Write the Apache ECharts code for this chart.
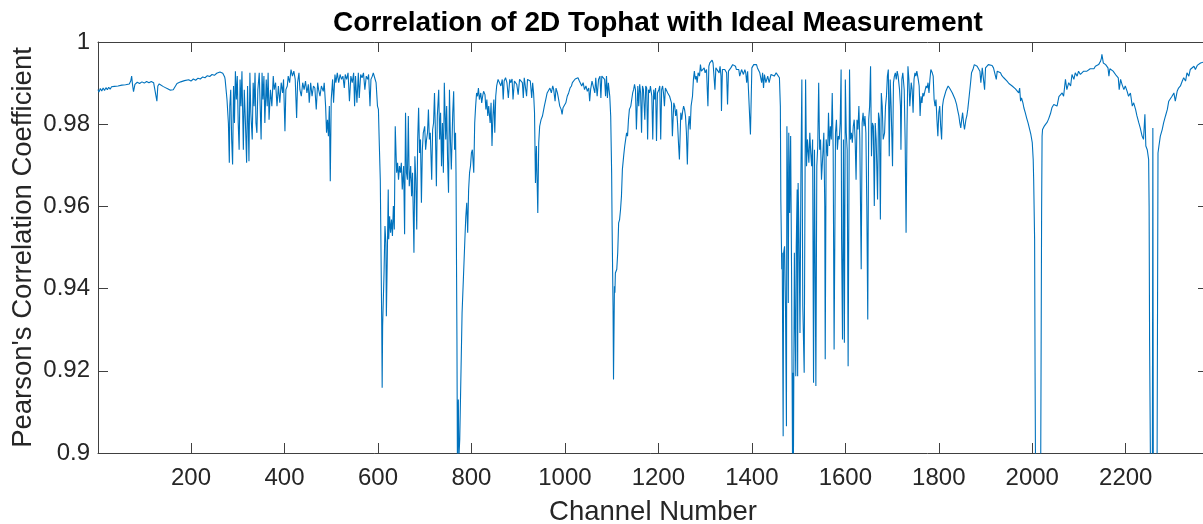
<!DOCTYPE html>
<html>
<head>
<meta charset="utf-8">
<script src="https://cdn.jsdelivr.net/npm/echarts@6/dist/echarts.min.js"></script>
<style>
html,body{margin:0;padding:0;background:#fff;}
#chart{width:1203px;height:524px;}
</style>
</head>
<body>
<div id="chart"></div>
<script>
// ---- Data: [channel, Pearson's correlation coefficient] ----
const segA = [[1,.9884],[3,.9878],[6,.9887],[9,.9881],[12,.9888],[15,.9882],[18,.9889],[21,.9884],[24,.9890],[27,.9885],[30,.9891],[33,.9887],[36,.9892],[40,.9888],[44,.9893],[48,.9890],[52,.9895],[56,.9892],[60,.9896],[64,.9893],[68,.9898],[71,.9905],[73,.9917],[75,.9895],[77,.9879],[80,.9897],[85,.9902],[90,.9899],[95,.9903],[100,.9900],[105,.9904],[110,.9901],[115,.9904],[120,.9901],[124,.9899],[127,.9856],[129,.9893],[132,.9898],[136,.9895],[140,.9892],[145,.9889],[150,.9886],[155,.9883],[158,.9880],[162,.9884],[166,.9887],[170,.9899],[174,.9896],[178,.9903],[182,.9900],[186,.9906],[190,.9903],[195,.9908],[200,.9905],[205,.9910],[210,.9907],[215,.9912],[220,.9910],[225,.9915],[230,.9913],[235,.9918],[240,.9916],[245,.9921],[250,.9919],[255,.9924],[258,.9921],[262,.9927],[265,.9925],[268,.9924],[272,.9915]];

const segB = [[273,.9909],[277,.9860],[280,.9803],[282,.9706],[283,.9844],[285,.9884],[287,.9763],[289,.9702],[291,.9893],[293,.9803],[295,.9929],[297,.9860],[299,.9917],[301,.9803],[303,.9738],[305,.9909],[307,.9844],[309,.9929],[312,.9738],[314,.9884],[316,.9820],[319,.9706],[321,.9893],[324,.9710],[326,.9925],[328,.9828],[331,.9763],[333,.9901],[335,.9844],[337,.9925],[339,.9803],[341,.9779],[343,.9884],[346,.9925],[348,.9844],[350,.9763],[352,.9925],[354,.9860],[356,.9917],[358,.9803],[361,.9909],[363,.9844],[365,.9925],[367,.9811],[370,.9884],[373,.9844],[376,.9917],[378,.9884],[381,.9901],[384,.9844],[387,.9893],[390,.9852],[393,.9901],[396,.9876],[398,.9909],[401,.9783],[403,.9884],[406,.9893],[408,.9917],[411,.9901],[414,.9933],[417,.9917],[420,.9929],[423,.9909],[426,.9815],[428,.9901],[431,.9925],[433,.9884],[436,.9868],[439,.9901],[442,.9884],[445,.9905],[448,.9876],[451,.9897],[453,.9852],[456,.9901],[459,.9868],[462,.9893],[465,.9888],[468,.9836],[471,.9901],[473,.9884]];

const segC = [[476,.9868],[479,.9893],[483,.9880],[485,.9901],[488,.9844],[490,.9779],[492,.9811],[494,.9771],[496,.9844],[498,.9661],[500,.9860],[503,.9909],[505,.9852],[508,.9921],[510,.9901],[513,.9925],[516,.9901],[519,.9921],[522,.9909],[525,.9917],[528,.9888],[530,.9921],[533,.9909],[536,.9925],[539,.9856],[542,.9917],[545,.9901],[548,.9925],[550,.9844],[552,.9917],[555,.9852],[558,.9925],[560,.9864],[563,.9921],[566,.9913],[569,.9925],[572,.9884],[575,.9917],[578,.9909],[580,.9921],[583,.9844],[585,.9909],[588,.9917],[590,.9925],[593,.9913],[596,.9901],[599,.9844],[601,.9836],[603,.9747],[605,.9665],[608,.9325],[609,.9159],[610,.9309],[613,.9438],[615,.9552],[617,.9511],[618,.9333],[620,.9479],[622,.9641],[623,.9520],[625,.9576],[627,.9536],[629,.9568],[631,.9528],[633,.9601],[635,.9544],[637,.9795],[640,.9682],[642,.9706],[644,.9665],[646,.9698],[648,.9682],[650,.9706],[652,.9641],[655,.9698],[657,.9532],[659,.9828],[661,.9682],[663,.9665],[665,.9820],[667,.9649],[670,.9698],[672,.9625],[674,.9682],[677,.9487],[679,.9722],[681,.9665],[683,.9544],[685,.9763],[687,.9840],[689,.9730],[691,.9763],[693,.9609],[695,.9738],[697,.9779],[700,.9795],[702,.9738],[704,.9763],[706,.9779],[708,.9836],[710,.9763],[712,.9779],[715,.9665],[717,.9787],[719,.9803],[721,.9876],[723,.9779],[725,.9649],[727,.9820],[730,.9884],[732,.9763],[734,.9828],[736,.9698],[738,.9803],[740,.9682],[742,.9901],[745,.9763],[747,.9844],[749,.9714],[751,.9633],[753,.9884],[755,.9763],[757,.9690],[760,.9828],[762,.9880],[764,.9738],[766,.9779],[767,.9682],[769,.9276],[770,.8984],[772,.9130],[773,.8984],[775,.9033],[780,.9341],[783,.9430],[786,.9520],[788,.9576],[790,.9609],[792,.9536],[794,.9641],[796,.9682],[798,.9698],[800,.9730],[802,.9738],[805,.9682],[807,.9803],[809,.9844],[811,.9876],[813,.9868],[815,.9888],[817,.9860],[820,.9876],[822,.9852],[824,.9868],[826,.9880],[829,.9872],[831,.9836],[833,.9860],[835,.9820],[837,.9844],[840,.9803],[842,.9852],[844,.9747],[846,.9820],[848,.9860],[850,.9779],[852,.9868],[854,.9893],[857,.9909],[860,.9905],[863,.9893],[866,.9909],[868,.9860],[870,.9905],[873,.9913],[876,.9901],[879,.9864],[882,.9909],[884,.9901],[887,.9910],[889,.9860],[892,.9905],[894,.9909],[897,.9897],[900,.9872],[903,.9909],[906,.9913],[909,.9901],[911,.9864],[913,.9913],[916,.9917],[918,.9868],[920,.9909],[923,.9913],[926,.9905],[929,.9864],[931,.9901],[933,.9876],[935,.9828],[937,.9657],[939,.9747],[942,.9584],[944,.9755],[946,.9795],[949,.9811],[952,.9820]];

const segD = [[954,.9832],[956,.9844],[959,.9860],[962,.9876],[965,.9872],[968,.9888],[971,.9876],[974,.9893],[976,.9884],[979,.9856],[981,.9888],[984,.9876],[986,.9864],[989,.9844],[992,.9836],[994,.9824],[996,.9840],[999,.9844],[1002,.9852],[1005,.9868],[1008,.9876],[1011,.9888],[1014,.9893],[1016,.9901],[1019,.9905],[1022,.9910],[1025,.9909],[1028,.9913],[1031,.9905],[1034,.9901],[1036,.9893],[1039,.9901],[1042,.9884],[1045,.9893],[1048,.9880],[1051,.9888],[1053,.9856],[1055,.9884],[1058,.9905],[1061,.9909],[1064,.9876],[1066,.9913],[1069,.9868],[1072,.9909],[1075,.9917],[1077,.9864],[1079,.9917],[1082,.9921],[1085,.9909],[1087,.9868],[1089,.9917],[1091,.9864],[1093,.9901],[1096,.9868],[1098,.9820],[1100,.9682],[1101,.9552],[1103,.9357],[1104,.9179],[1106,.9406],[1107,.9390],[1108,.9438],[1111,.9447],[1113,.9487],[1115,.9560],[1117,.9568],[1119,.9592],[1121,.9625],[1123,.9690],[1126,.9726],[1128,.9747],[1130,.9763],[1132,.9779],[1134,.9771],[1136,.9811],[1138,.9836],[1141,.9844],[1143,.9860],[1145,.9876],[1147,.9884],[1149,.9897],[1151,.9884],[1153,.9787],[1156,.9893],[1158,.9844],[1160,.9897],[1162,.9876],[1164,.9779],[1166,.9893],[1168,.9884],[1171,.9811],[1173,.9893],[1175,.9888],[1177,.9763],[1179,.9884],[1181,.9876],[1183,.9893],[1186,.9868],[1188,.9763],[1190,.9884],[1192,.9860],[1194,.9888],[1196,.9759],[1198,.9876],[1201,.9884],[1203,.9893],[1205,.9763],[1207,.9884],[1209,.9893],[1211,.9876],[1213,.9844],[1215,.9888],[1218,.9884],[1220,.9876],[1222,.9880],[1224,.9868],[1226,.9864],[1228,.9852],[1230,.9771],[1233,.9852],[1235,.9844],[1237,.9820],[1239,.9836],[1241,.9803],[1243,.9755],[1245,.9714],[1248,.9828],[1250,.9811],[1252,.9832],[1254,.9844],[1256,.9836],[1258,.9820],[1260,.9779],[1262,.9702],[1264,.9795],[1266,.9820],[1268,.9787],[1270,.9844],[1273,.9868],[1275,.9909],[1277,.9929],[1279,.9909],[1281,.9917],[1283,.9901],[1285,.9925],[1288,.9917],[1290,.9945],[1292,.9929],[1294,.9925],[1296,.9933],[1298,.9937],[1300,.9925],[1303,.9933],[1305,.9929],[1306,.9844],[1308,.9941],[1310,.9949],[1313,.9953],[1315,.9956],[1317,.9949],[1319,.9945],[1321,.9884],[1323,.9937],[1325,.9941],[1327,.9937],[1330,.9925],[1332,.9941],[1334,.9917],[1335,.9832],[1337,.9933],[1340,.9937],[1342,.9933],[1344,.9937],[1346,.9925],[1348,.9848],[1350,.9929],[1352,.9933],[1355,.9937],[1357,.9941],[1359,.9945],[1361,.9949],[1363,.9949],[1365,.9941],[1367,.9933],[1370,.9929],[1372,.9933],[1374,.9917],[1376,.9925],[1378,.9933],[1380,.9929],[1382,.9921],[1385,.9933],[1387,.9925],[1389,.9901],[1391,.9929],[1393,.9933],[1395,.9929],[1397,.9775],[1400,.9937],[1402,.9941],[1404,.9945],[1406,.9941],[1408,.9949],[1410,.9945],[1412,.9937],[1415,.9933],[1417,.9925],[1419,.9929],[1421,.9901],[1423,.9925],[1425,.9888],[1427,.9921],[1430,.9901]];

const segE = [[1434,.9917],[1437,.9901],[1441,.9921],[1444,.9925],[1448,.9917],[1452,.9925],[1455,.9921],[1459,.9913],[1461,.9844],[1462,.9617],[1464,.9447],[1465,.9487],[1467,.9041],[1468,.9487],[1470,.9503],[1472,.9357],[1474,.9065],[1475,.9795],[1477,.9601],[1478,.9365],[1479,.9779],[1481,.9584],[1483,.9771],[1485,.9438],[1487,.8984],[1488,.9195],[1489,.8984],[1491,.9487],[1492,.9357],[1494,.9187],[1495,.9503],[1497,.9641],[1498,.9187],[1499,.9657],[1501,.9520],[1503,.9292],[1505,.9682],[1507,.9909],[1509,.9357],[1512,.9195],[1514,.9714],[1515,.9909],[1517,.9698],[1519,.9763],[1522,.9706],[1524,.9779],[1526,.9730],[1528,.9698],[1530,.9763],[1532,.9171],[1534,.9738],[1537,.9163],[1539,.9698],[1541,.9747],[1543,.9901],[1545,.9738],[1547,.9763],[1549,.9665],[1552,.9730],[1554,.9779],[1556,.9601],[1557,.9228],[1559,.9763],[1562,.9722],[1564,.9828],[1566,.9747],[1568,.9795],[1570,.9763],[1572,.9876],[1574,.9738],[1576,.9252],[1579,.9779],[1581,.9811],[1583,.9738],[1585,.9771],[1587,.9763],[1589,.9803],[1591,.9933],[1592,.9520],[1594,.9276],[1596,.9763],[1598,.9268],[1600,.9909],[1602,.9779],[1604,.9738],[1606,.9211],[1609,.9933],[1611,.9763],[1613,.9779],[1615,.9755],[1617,.9795],[1619,.9811],[1621,.9763],[1623,.9665],[1625,.9811],[1627,.9787],[1629,.9844],[1631,.9763],[1634,.9447],[1636,.9803],[1638,.9828],[1640,.9795],[1642,.9820],[1644,.9779],[1646,.9601],[1648,.9325],[1650,.9811],[1652,.9844],[1654,.9941],[1656,.9722],[1658,.9803],[1660,.9795],[1662,.9601],[1664,.9803],[1666,.9763],[1669,.9617],[1671,.9828],[1673,.9811],[1675,.9568],[1677,.9876],[1679,.9844],[1681,.9763],[1684,.9779],[1686,.9844],[1688,.9868],[1690,.9917],[1692,.9933],[1694,.9722],[1696,.9909],[1698,.9844],[1701,.9698],[1703,.9901],[1705,.9917],[1707,.9925],[1709,.9909],[1711,.9929],[1713,.9917],[1716,.9884],[1718,.9844],[1719,.9738],[1721,.9909],[1723,.9925],[1726,.9884],[1728,.9763],[1730,.9536],[1732,.9795],[1734,.9941],[1736,.9909],[1738,.9844],[1741,.9901],[1743,.9884],[1745,.9828],[1747,.9909],[1749,.9925],[1751,.9917],[1753,.9929],[1756,.9909],[1758,.9893],[1760,.9820],[1762,.9868],[1764,.9852],[1766,.9876],[1768,.9868],[1771,.9884],[1773,.9893],[1775,.9888],[1777,.9901],[1779,.9876],[1781,.9909],[1783,.9933],[1786,.9925],[1788,.9917],[1790,.9860],[1792,.9844],[1794,.9860],[1796,.9811],[1798,.9771],[1800,.9828],[1802,.9844],[1804,.9795],[1806,.9763],[1808,.9844],[1810,.9860],[1812,.9868],[1815,.9880],[1818,.9888],[1820,.9893],[1823,.9888],[1826,.9884],[1829,.9876],[1832,.9872],[1835,.9860],[1838,.9848],[1840,.9836],[1843,.9820],[1845,.9803],[1847,.9791],[1849,.9811],[1851,.9828],[1853,.9803],[1855,.9787],[1858,.9811],[1860,.9820],[1862,.9836],[1865,.9868],[1868,.9901],[1870,.9925],[1873,.9933],[1876,.9945],[1879,.9949],[1882,.9941],[1885,.9945],[1888,.9929],[1890,.9901],[1893,.9937],[1896,.9933],[1898,.9884],[1900,.9937],[1903,.9941],[1906,.9945]];

const segF = [[1910,.9945],[1914,.9943],[1917,.9937],[1921,.9933],[1923,.9909],[1925,.9929],[1928,.9931],[1932,.9925],[1935,.9918],[1939,.9913],[1942,.9909],[1946,.9905],[1950,.9899],[1953,.9901],[1957,.9893],[1960,.9894],[1964,.9886],[1967,.9883],[1971,.9876],[1973,.9888],[1975,.9856],[1977,.9864],[1980,.9852],[1982,.9840],[1985,.9828],[1988,.9815],[1991,.9803],[1994,.9789],[1997,.9775],[2000,.9755],[2002,.9714],[2003,.9665],[2005,.9520],[2006,.9195],[2007,.8952],[2010,.8600],[2015,.8600],[2018,.8952],[2020,.9592],[2021,.9771],[2022,.9787],[2025,.9794],[2028,.9799],[2032,.9805],[2035,.9813],[2039,.9826],[2042,.9840],[2046,.9848],[2049,.9852],[2053,.9844],[2057,.9867],[2060,.9870],[2064,.9876],[2067,.9868],[2071,.9909],[2074,.9884],[2078,.9901],[2082,.9893],[2085,.9921],[2089,.9909],[2092,.9925],[2096,.9917],[2099,.9929],[2103,.9921],[2107,.9925],[2110,.9929],[2114,.9933],[2117,.9929],[2121,.9931],[2124,.9935],[2128,.9937],[2132,.9935],[2135,.9941],[2139,.9943],[2142,.9945],[2146,.9953],[2148,.9961],[2149,.9970],[2152,.9949],[2154,.9953],[2157,.9945],[2160,.9941],[2162,.9937],[2164,.9917],[2166,.9935],[2169,.9933],[2173,.9929],[2177,.9925],[2180,.9918],[2184,.9913],[2186,.9884],[2189,.9909],[2192,.9897],[2196,.9884],[2199,.9893],[2203,.9880],[2206,.9868],[2210,.9876],[2214,.9844],[2217,.9852],[2221,.9836],[2224,.9820],[2228,.9803],[2231,.9791],[2235,.9771],[2238,.9763],[2241,.9824],[2243,.9747],[2246,.9738],[2249,.9714],[2250,.9601],[2251,.9276],[2253,.8952],[2255,.8600],[2257,.8952],[2258,.9791],[2259,.8952],[2263,.8600],[2267,.8952],[2269,.9730],[2271,.9747],[2274,.9771],[2278,.9787],[2281,.9803],[2285,.9820],[2289,.9836],[2292,.9856],[2296,.9852],[2299,.9868],[2303,.9876],[2306,.9856],[2310,.9880],[2313,.9888],[2317,.9893],[2321,.9905],[2324,.9913],[2328,.9905],[2331,.9925],[2335,.9917],[2338,.9933],[2342,.9929],[2346,.9941],[2349,.9933],[2353,.9943],[2356,.9945],[2360,.9949],[2363,.9953],[2366,.9951],[2370,.9950],[2376,.9952]];

const xTicks = [200, 400, 600, 800, 1000, 1200, 1400, 1600, 1800, 2000, 2200];
const xRange = [1, 2376];
const yRange = [0.9, 1];
const titleText = 'Correlation of 2D Tophat with Ideal Measurement';
const xName = 'Channel Number';
const yName = "Pearson's Correlation Coefficient";

const data = [].concat(segA, segB, segC, segD, segE, segF);

const FONT = 'Liberation Sans, Arial, Helvetica, sans-serif';
const AXIS_COLOR = '#404040';
const TEXT_COLOR = '#262626';

const chart = echarts.init(document.getElementById('chart'), null, {renderer: 'canvas'});
chart.setOption({
  animation: false,
  backgroundColor: '#ffffff',
  title: {
    text: titleText,
    left: 653,
    top: 4,
    textAlign: 'center',
    textStyle: {fontFamily: FONT, fontSize: 28, fontWeight: 'bold', color: '#000'}
  },
  grid: {left: 98, right: -5, top: 42, bottom: 71, containLabel: false, outerBoundsMode: 'none'},
  xAxis: [{
    type: 'value', min: xRange[0], max: xRange[1], position: 'bottom',
    axisLine: {show: true, onZero: false, lineStyle: {color: AXIS_COLOR, width: 1}},
    axisTick: {show: true, inside: true, length: 10, customValues: xTicks, lineStyle: {color: AXIS_COLOR}},
    axisLabel: {show: true, customValues: xTicks, formatter: function (v) { return String(v); },
      fontFamily: FONT, fontSize: 24, color: TEXT_COLOR, margin: 13},
    splitLine: {show: false},
    name: xName, nameLocation: 'middle', nameGap: 45, nameMoveOverlap: false,
    nameTextStyle: {fontFamily: FONT, fontSize: 27.5, color: TEXT_COLOR}
  }, {
    type: 'value', min: xRange[0], max: xRange[1], position: 'top',
    axisLine: {show: true, onZero: false, lineStyle: {color: AXIS_COLOR, width: 1}},
    axisTick: {show: true, inside: true, length: 10, customValues: xTicks, lineStyle: {color: AXIS_COLOR}},
    axisLabel: {show: false},
    splitLine: {show: false}
  }],
  yAxis: [{
    type: 'value', min: yRange[0], max: yRange[1], interval: 0.02, position: 'left',
    axisLine: {show: true, onZero: false, lineStyle: {color: AXIS_COLOR, width: 1}},
    axisTick: {show: true, inside: true, length: 10, lineStyle: {color: AXIS_COLOR}},
    axisLabel: {show: true, fontFamily: FONT, fontSize: 24, color: TEXT_COLOR, margin: 8},
    splitLine: {show: false},
    name: yName, nameLocation: 'middle', nameGap: 61, nameRotate: 90, nameMoveOverlap: false,
    nameTextStyle: {fontFamily: FONT, fontSize: 27.5, color: TEXT_COLOR}
  }, {
    type: 'value', min: yRange[0], max: yRange[1], interval: 0.02, position: 'right',
    axisLine: {show: true, onZero: false, lineStyle: {color: AXIS_COLOR, width: 1}},
    axisTick: {show: true, inside: true, length: 10, lineStyle: {color: AXIS_COLOR}},
    axisLabel: {show: false},
    splitLine: {show: false}
  }],
  series: [{
    type: 'line',
    xAxisIndex: 0, yAxisIndex: 0,
    data: data,
    showSymbol: false,
    symbol: 'none',
    clip: true,
    sampling: null,
    lineStyle: {color: '#0072BD', width: 1.1},
    itemStyle: {color: '#0072BD'}
  }]
});
</script>
</body>
</html>
